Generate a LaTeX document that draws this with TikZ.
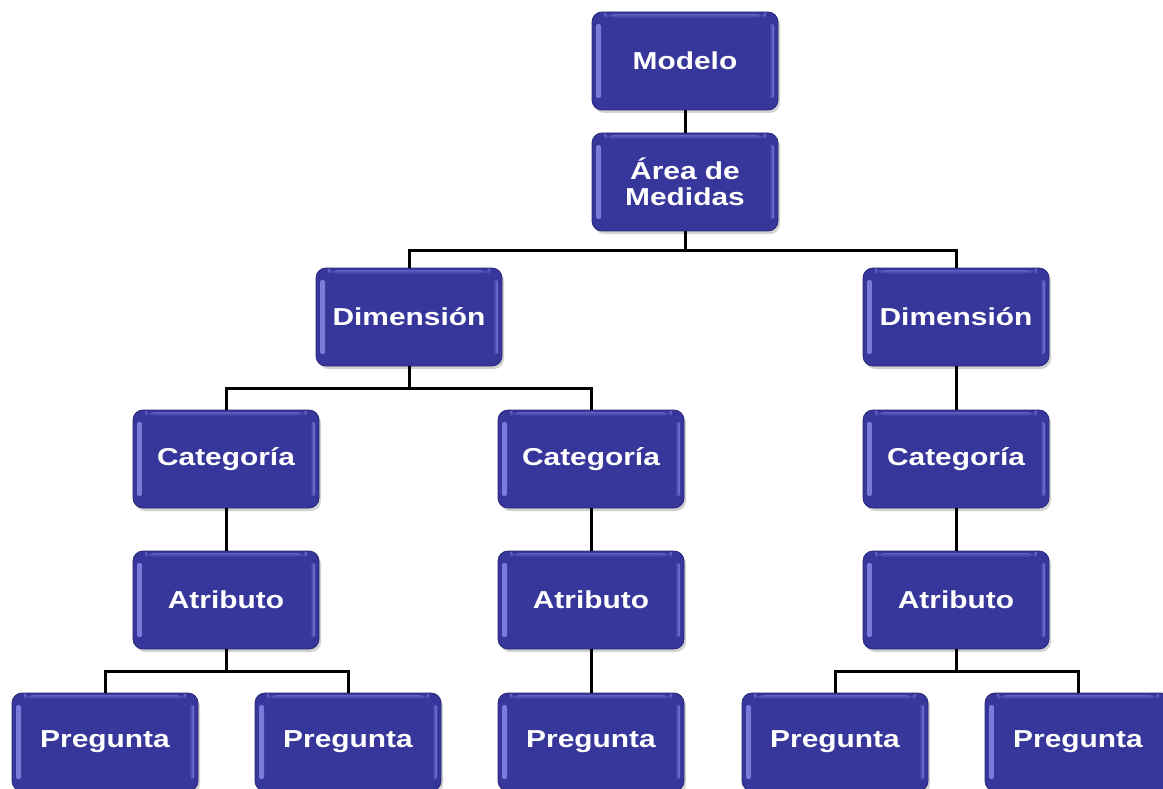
\documentclass[tikz,border=0pt]{standalone}
\usepackage{fontspec}
\newfontfamily\boxfont{Liberation Sans}[FakeStretch=1.22]
\usetikzlibrary{shadows}
\definecolor{boxblue}{RGB}{54,54,155}
\definecolor{boxedge}{RGB}{40,40,120}
\definecolor{hilite}{RGB}{125,125,220}
\tikzset{
  x=1pt, y=-1pt,
  box/.style={rounded corners=10pt, fill=boxblue, draw=boxedge, line width=0.8pt,
    minimum width=186pt, minimum height=98pt, inner sep=0pt, align=center,
    text=white, font=\boxfont\bfseries\fontsize{24.5}{25}\selectfont,
    drop shadow={shadow xshift=2pt, shadow yshift=-3pt, opacity=0.35},
    path picture={
      \shade[left color=hilite, right color=boxblue, rounded corners=2pt]
        ([xshift=4pt,yshift=-12pt]path picture bounding box.north west) rectangle
        ([xshift=9pt,yshift=12pt]path picture bounding box.south west);
      \shade[right color=hilite, left color=boxblue, rounded corners=2pt]
        ([xshift=-9pt,yshift=-12pt]path picture bounding box.north east) rectangle
        ([xshift=-4pt,yshift=12pt]path picture bounding box.south east);
      \shade[top color=hilite!60!boxblue, bottom color=boxblue]
        ([xshift=12pt,yshift=-2pt]path picture bounding box.north west) rectangle
        ([xshift=-12pt,yshift=-6pt]path picture bounding box.north east);
    }},
  link/.style={line width=3pt, draw=black}
}
\begin{document}
\begin{tikzpicture}
\clip (0,0) rectangle (1163,789);
\fill[white] (0,0) rectangle (1163,789);
\coordinate (j1) at (685,250);
\coordinate (j2) at (409,388);
\coordinate (j3) at (226,671);
\coordinate (j4) at (956,671);
\node[box] (modelo) at (685,61) {Modelo};
\node[box] (area) at (685,182) {Área de\\[1pt]Medidas};
\node[box] (dimL) at (409,317) {Dimensión};
\node[box] (dimR) at (956,317) {Dimensión};
\node[box] (catL) at (226,459) {Categoría};
\node[box] (catM) at (591,459) {Categoría};
\node[box] (catR) at (956,459) {Categoría};
\node[box] (atrL) at (226,600) {Atributo};
\node[box] (atrM) at (591,600) {Atributo};
\node[box] (atrR) at (956,600) {Atributo};
\node[box] (p1) at (105,742) {Pregunta};
\node[box] (p2) at (348,742) {Pregunta};
\node[box] (p3) at (591,742) {Pregunta};
\node[box] (p4) at (835,742) {Pregunta};
\node[box] (p5) at (1078,742) {Pregunta};
\begin{scope}[link]
\draw (modelo.south) -- (area.north);
\draw (area.south) -- (j1);
\draw (dimL.north) |- (j1) -| (dimR.north);
\draw (dimL.south) -- (j2);
\draw (catL.north) |- (j2) -| (catM.north);
\draw (dimR.south) -- (catR.north);
\draw (catL.south) -- (atrL.north);
\draw (catM.south) -- (atrM.north);
\draw (catR.south) -- (atrR.north);
\draw (atrL.south) -- (j3);
\draw (p1.north) |- (j3) -| (p2.north);
\draw (atrM.south) -- (p3.north);
\draw (atrR.south) -- (j4);
\draw (p4.north) |- (j4) -| (p5.north);
\end{scope}
\end{tikzpicture}
\end{document}
